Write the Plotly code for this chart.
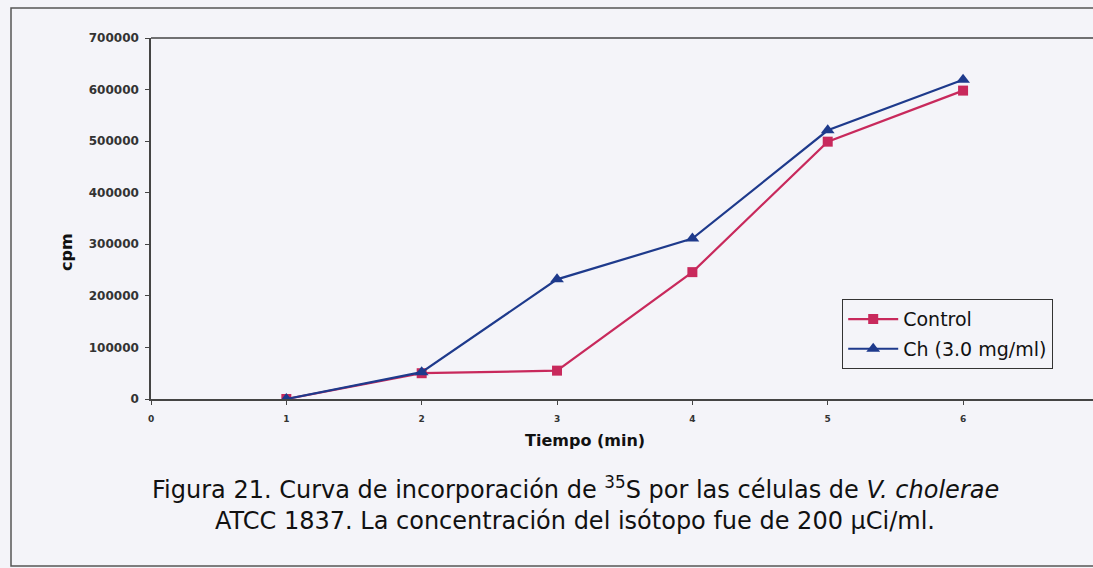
import plotly.graph_objects as go

# Incorporation of 35S over time
tiempo = [1, 2, 3, 4, 5, 6]
control = [0, 50000, 55000, 246000, 499000, 598000]
ch_3mg = [0, 52000, 232000, 311000, 521000, 619000]

x_ticks = [0, 1, 2, 3, 4, 5, 6]
y_ticks = [0, 100000, 200000, 300000, 400000, 500000, 600000, 700000]

BG = "#f4f4f9"
AXIS = "#444444"
WIDE = "DejaVu Sans, Liberation Sans, Arial, sans-serif"

PLOT_L, PLOT_R, PLOT_T, PLOT_B = 151, 1093, 38, 399


def px(xp):
    return (xp - PLOT_L) / (PLOT_R - PLOT_L)


def py(yp):
    return (PLOT_B - yp) / (PLOT_B - PLOT_T)


fig = go.Figure()
fig.add_trace(go.Scatter(
    x=tiempo, y=control, name="Control", mode="lines+markers",
    legendgroup="a",
    line=dict(color="#c8295c", width=2.2),
    marker=dict(symbol="square", size=10, color="#c8295c"),
))
fig.add_trace(go.Scatter(
    x=tiempo, y=ch_3mg, name="Ch (3.0 mg/ml)", mode="lines+markers",
    legendgroup="b",
    line=dict(color="#1e3a8c", width=2.2),
    marker=dict(symbol="triangle-up", size=12, color="#1e3a8c"),
))

fig.update_layout(
    width=1093, height=568,
    margin=dict(l=PLOT_L, r=1093 - PLOT_R, t=PLOT_T, b=568 - PLOT_B),
    paper_bgcolor=BG, plot_bgcolor=BG,
    font=dict(family=WIDE, color="#222222"),
    showlegend=True,
    legend=dict(
        x=px(842), y=py(299), xanchor="left", yanchor="top",
        bgcolor=BG, bordercolor="#333333", borderwidth=1.2,
        font=dict(size=19, family=WIDE, color="#111111"),
        tracegroupgap=2, itemwidth=50,
    ),
    xaxis=dict(
        range=[0, 6.96], tickvals=x_ticks, ticktext=[str(v) for v in x_ticks],
        showgrid=False, zeroline=False, showline=True, linecolor=AXIS,
        linewidth=1.5, ticks="outside", ticklen=4, tickcolor=AXIS,
        ticklabelstandoff=6,
        tickfont=dict(size=9, family="DejaVu Sans, sans-serif", color="#333333",
                      weight="bold"),
    ),
    yaxis=dict(
        range=[0, 700000], tickvals=y_ticks, tickformat="d",
        showgrid=False, zeroline=False, showline=True, linecolor=AXIS,
        linewidth=1.5, ticks="outside", ticklen=4, tickcolor=AXIS,
        ticklabelstandoff=4,
        tickfont=dict(size=12, family="DejaVu Sans, sans-serif", color="#333333",
                      weight="bold"),
    ),
)

# Plot-area top edge
fig.add_shape(type="line", xref="paper", yref="paper",
              x0=0, x1=1, y0=1, y1=1, line=dict(color=AXIS, width=1.5))

# Outer frame around the figure
fig.add_shape(type="rect", xref="paper", yref="paper",
              x0=px(11), x1=px(1150), y0=py(566), y1=py(8),
              line=dict(color="#555555", width=1.5), layer="below")


def label(text, x, y, size, angle=0):
    fig.add_annotation(text=text, xref="paper", yref="paper",
                       x=px(x), y=py(y), xanchor="center", yanchor="middle",
                       textangle=angle, showarrow=False,
                       font=dict(size=size, family=WIDE, color="#111111"))


# Axis titles
label("<b>Tiempo (min)</b>", 585, 440, 16)
label("<b>cpm</b>", 66, 252, 16, angle=-90)

# Caption
label("Figura 21. Curva de incorporación de <sup>35</sup>S por las células de <i>V. cholerae</i>",
      575, 488, 24)
label("ATCC 1837. La concentración del isótopo fue de 200 µCi/ml.", 575, 521, 24)

fig.write_html("out.html")
